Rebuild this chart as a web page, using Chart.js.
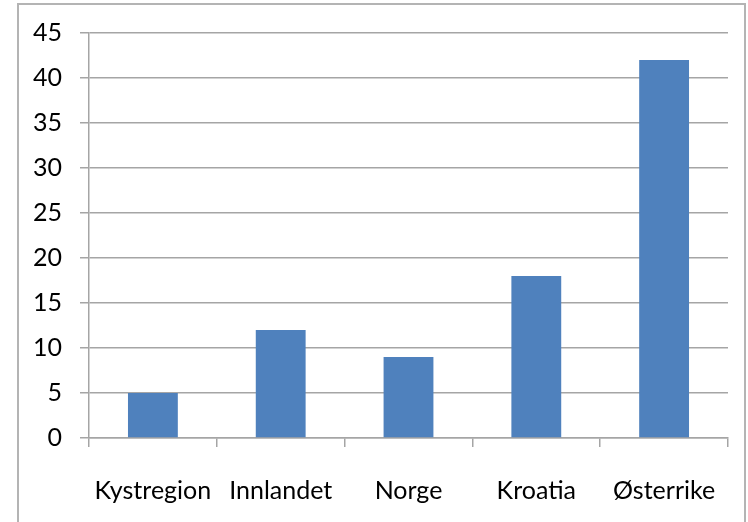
<!DOCTYPE html>
<html>
<head>
<meta charset="utf-8">
<script src="https://cdn.jsdelivr.net/npm/chart.js@4/dist/chart.umd.min.js"></script>
<style>
html,body{margin:0;padding:0;background:#fff;overflow:hidden;}
#wrap{position:absolute;left:0;top:0;width:748px;height:522px;}
</style>
</head>
<body>
<div id="wrap"><canvas id="c" width="748" height="522"></canvas></div>
<script>
const categories = ['Kystregion', 'Innlandet', 'Norge', 'Kroatia', 'Østerrike'];
const values = [5, 12, 9, 18, 42];
const yTicks = [0, 5, 10, 15, 20, 25, 30, 35, 40, 45];

const framePlugin = {
  id: 'frame',
  beforeDraw(chart) {
    const ctx = chart.ctx;
    ctx.save();
    ctx.fillStyle = '#fff';
    ctx.fillRect(0, 0, chart.width, chart.height);
    ctx.strokeStyle = '#b4b4b4';
    ctx.lineWidth = 2;
    ctx.beginPath();
    ctx.moveTo(18, 530);
    ctx.lineTo(18, 4);
    ctx.lineTo(745, 4);
    ctx.lineTo(745, 530);
    ctx.stroke();
    ctx.restore();
  }
};

new Chart(document.getElementById('c'), {
  type: 'bar',
  data: {
    labels: categories,
    datasets: [{
      data: values,
      backgroundColor: '#4F81BD',
      borderWidth: 0,
      categoryPercentage: 1,
      barPercentage: 0.39
    }]
  },
  options: {
    responsive: false,
    animation: false,
    layout: { padding: { left: 0, right: 20, top: 32, bottom: 0 } },
    plugins: { legend: { display: false }, tooltip: { enabled: false } },
    scales: {
      y: {
        min: 0, max: 45,
        afterBuildTicks(scale) { scale.ticks = yTicks.map(v => ({ value: v })); },
        afterFit(scale) { scale.width = 89; },
        border: { display: true, color: '#a5a5a5', width: 1.5 },
        grid: { color: '#a5a5a5', lineWidth: 1.5, tickLength: 9, drawTicks: true },
        ticks: { padding: 18, color: '#000', font: { family: 'Lato', size: 25 } }
      },
      x: {
        afterFit(scale) { scale.height = 522 - 438; },
        border: { display: true, color: '#a5a5a5', width: 1.5 },
        grid: { drawOnChartArea: false, drawTicks: true, tickLength: 9, color: '#a5a5a5', lineWidth: 1.5, offset: true },
        ticks: { padding: 29, color: '#000', maxRotation: 0, autoSkip: false, font: { family: 'Lato', size: 25 } }
      }
    }
  },
  plugins: [framePlugin]
});
</script>
</body>
</html>
